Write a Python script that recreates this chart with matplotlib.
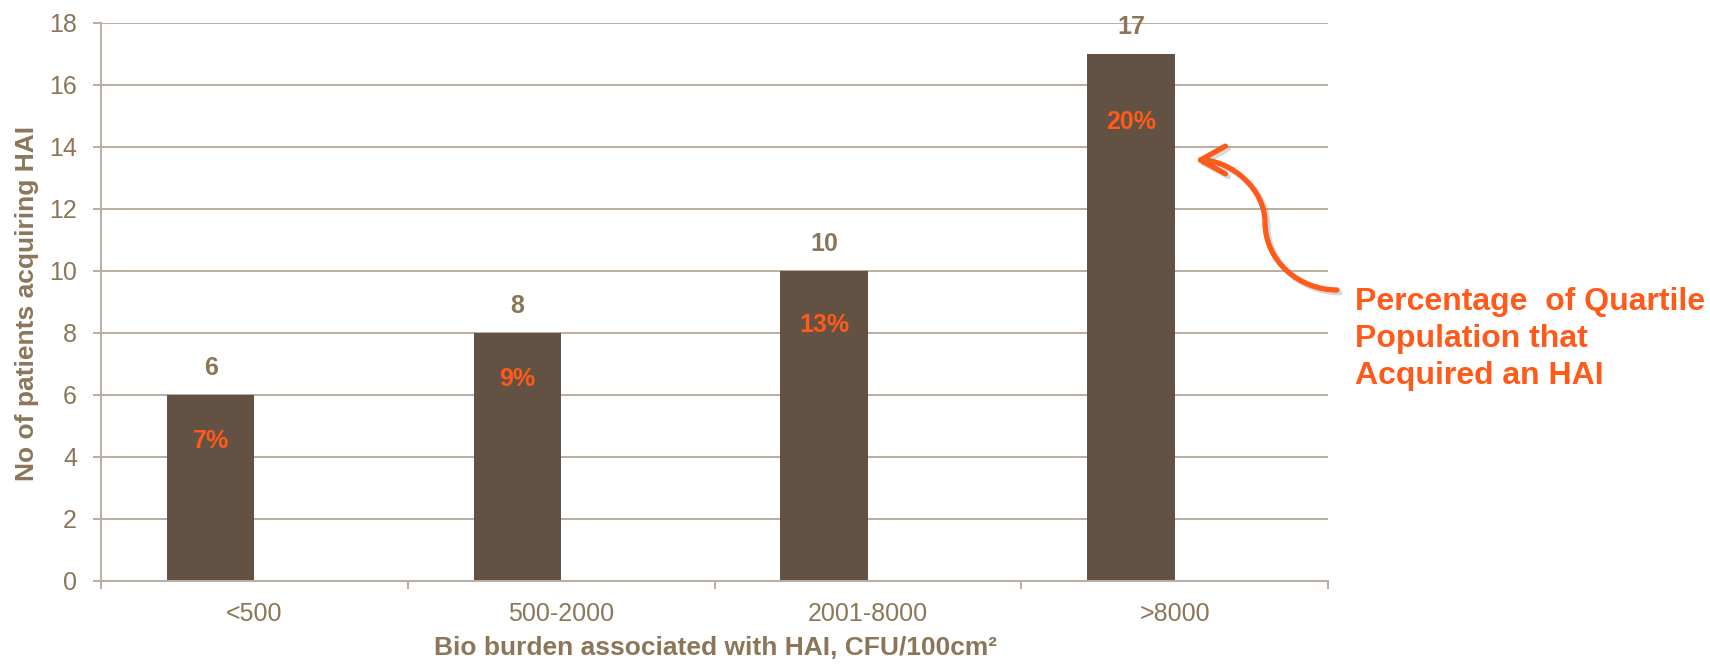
import matplotlib
matplotlib.use('Agg')
import matplotlib.pyplot as plt
from matplotlib.patches import FancyArrowPatch
from matplotlib.path import Path
import matplotlib.patheffects as pe

# bio burden quartiles vs patients acquiring HAI
categories = ["<500", "500-2000", "2001-8000", ">8000"]
patients = [6, 8, 10, 17]
pct_labels = ["7%", "9%", "13%", "20%"]

bar_c = "#635244"
text_c = "#8C7659"
grid_c = "#BAADA1"
hl_c = "#FF5A1A"

plt.rcParams['font.family'] = ['Liberation Sans', 'DejaVu Sans']

W, H = 1710, 665
fig = plt.figure(figsize=(W / 100, H / 100), dpi=100)

def px(x, y):
    # pixel position (origin top-left) -> figure fraction
    return x / W, 1 - y / H

ax = fig.add_axes([101 / W, 1 - 581 / H, 1227 / W, 558 / H])

width = 0.285
xs = [i - width / 2 for i in range(len(categories))]
ax.bar(xs, patients, width=width, color=bar_c, zorder=2)

ax.set_xlim(-0.5, len(categories) - 0.5)
ax.set_ylim(0, 18)
ax.set_yticks(range(0, 19, 2))
ax.yaxis.grid(True, color=grid_c, lw=1.4)
ax.set_axisbelow(True)

for s in ["top", "right"]:
    ax.spines[s].set_visible(False)
for s in ["left", "bottom"]:
    ax.spines[s].set_color(grid_c)
    ax.spines[s].set_linewidth(1.4)

# category boundaries get the tick marks, labels sit at the centres
ax.set_xticks([i - 0.5 for i in range(len(categories) + 1)])
ax.set_xticklabels([])
ax.set_xticks(range(len(categories)), minor=True)
ax.set_xticklabels(categories, minor=True)
ax.tick_params(axis='x', which='major', length=5.8, width=1.4, color=grid_c)
ax.tick_params(axis='x', which='minor', length=0, pad=15, labelsize=18, labelcolor=text_c)
ax.tick_params(axis='y', length=5.8, width=1.4, color=grid_c, pad=11.5,
               labelsize=18, labelcolor=text_c)

# how far below each bar top the percentage sits (data units)
pct_drop = [1.5, 1.5, 1.75, 2.2]
for x, v, p, d in zip(xs, patients, pct_labels, pct_drop):
    ax.annotate(str(v), (x, v), xytext=(0, 27), textcoords='offset pixels',
                ha='center', va='center', fontsize=18, fontweight='bold', color=text_c)
    ax.annotate(p, (x, v - d), ha='center', va='center',
                fontsize=18, fontweight='bold', color=hl_c)

fig.text(*px(27, 303), "No of patients acquiring HAI", rotation=90,
         ha='center', va='center', fontsize=19, fontweight='bold', color=text_c)
fig.text(*px(715, 648), "Bio burden associated with HAI, CFU/100cm\u00b2",
         ha='center', va='center', fontsize=19, fontweight='bold', color=text_c)

fig.text(*px(1355, 339), "Percentage  of Quartile\nPopulation that\nAcquired an HAI",
         ha='left', va='center', fontsize=23, fontweight='bold', color=hl_c,
         linespacing=1.32)

# curved call-out arrow pointing at the top bar
verts = [px(1337, 290), px(1300, 290), px(1265, 262), px(1265, 222),
         px(1265, 190), px(1232, 160), px(1195, 160)]
codes = [Path.MOVETO] + [Path.CURVE4] * 6
arrow = FancyArrowPatch(path=Path(verts, codes), transform=fig.transFigure,
                        arrowstyle='->,head_length=0.9,head_width=0.5',
                        mutation_scale=20, color=hl_c, lw=3.8,
                        capstyle='round', joinstyle='round')
arrow.set_path_effects([pe.SimpleLineShadow(offset=(2, -2), shadow_color='gray', alpha=0.3),
                        pe.Normal()])
fig.add_artist(arrow)

fig.savefig("out.png", dpi=100)
